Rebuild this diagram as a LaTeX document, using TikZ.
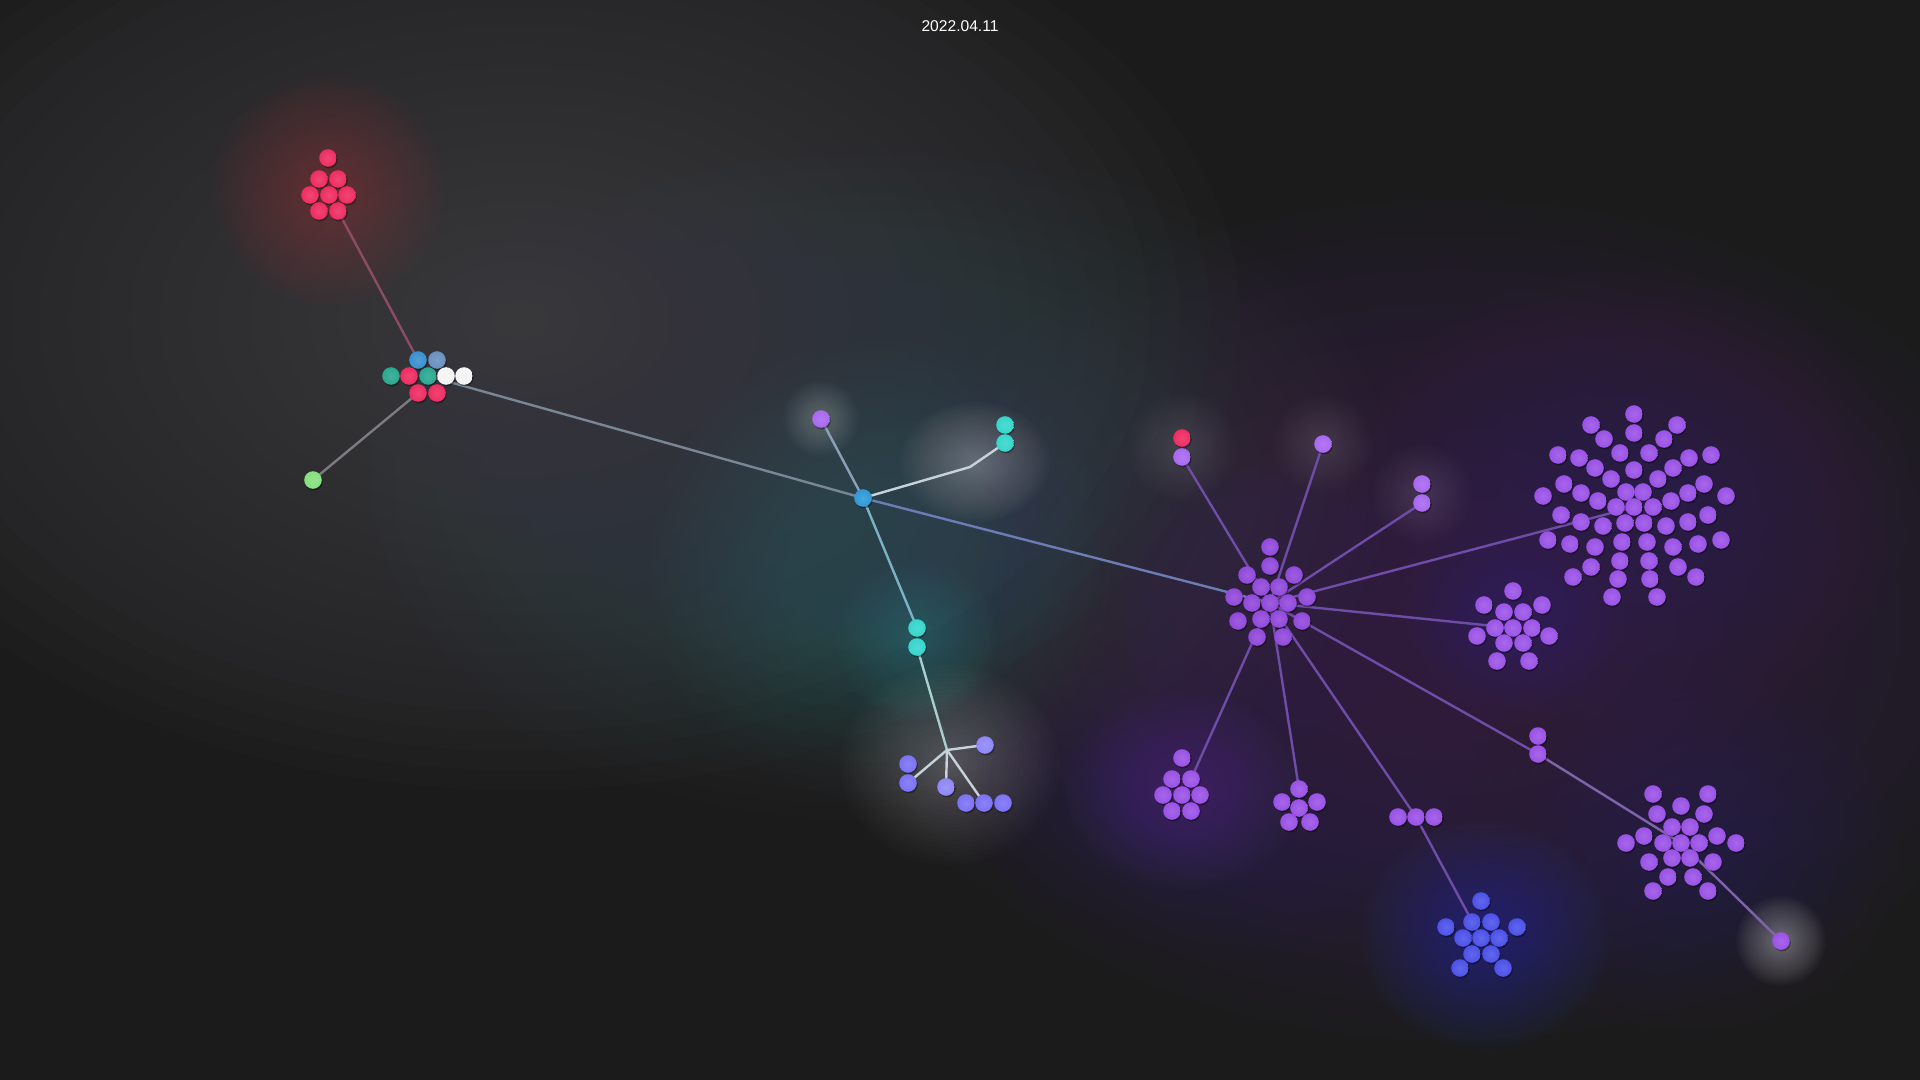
\documentclass[tikz,border=0pt]{standalone}
\usepackage{fontspec}
\setmainfont{Liberation Sans}
\usetikzlibrary{shadows}

\definecolor{bg}{HTML}{1B1B1C}
\definecolor{cRed}{HTML}{EE2D62}
\definecolor{cPurple}{HTML}{9A52E6}
\definecolor{cPurpleD}{HTML}{9149DB}
\definecolor{cLav}{HTML}{A868F0}
\definecolor{cBlue}{HTML}{4C52E8}
\definecolor{cViolet}{HTML}{7C72F5}
\definecolor{cCyan}{HTML}{36D6CC}
\definecolor{cHub}{HTML}{2E9AD8}
\definecolor{cGreen}{HTML}{86E080}
\definecolor{cMBlue}{HTML}{3A90D0}
\definecolor{cSteel}{HTML}{6A90C0}
\definecolor{cTeal}{HTML}{2AA890}
\definecolor{cWhite}{HTML}{F4F4F4}
\definecolor{lPurple}{HTML}{6E4CA8}
\definecolor{lPurpleL}{HTML}{8064AA}
\definecolor{lGray}{HTML}{7C7C80}
\definecolor{lPink}{HTML}{8C4C66}
\definecolor{lLight}{HTML}{C8D2DA}
\definecolor{lCyan}{HTML}{7AB4C4}
\definecolor{lCyanL}{HTML}{AACDCD}
\definecolor{lHubC}{HTML}{6C7CB4}
\definecolor{lMix}{HTML}{788696}
\definecolor{lPv}{HTML}{8CA0BA}
\definecolor{gGray}{HTML}{5C5B60}
\definecolor{gTealGray}{HTML}{4A5C64}
\definecolor{gTeal}{HTML}{4A8088}
\definecolor{gPurp1}{HTML}{4A3462}
\definecolor{gPurp2}{HTML}{5A3C76}
\definecolor{gPurp3}{HTML}{5A3C78}
\definecolor{gPurp4}{HTML}{503870}
\definecolor{gPurp5}{HTML}{6A4890}
\definecolor{gRed}{HTML}{D03458}
\definecolor{gBlue}{HTML}{3848D8}
\definecolor{gPurp6}{HTML}{7A50B8}
\definecolor{gCyan}{HTML}{48B8B8}

\pgfdeclarelayer{glows}
\pgfdeclarelayer{links}
\pgfsetlayers{glows,links,main}

% soft glow: 24 stacked translucent ellipses
\newcommand{\softglow}[6]{%
  \foreach \gk in {1,...,24}{%
    \fill[#5, fill opacity=#6] (#1,#2) ellipse [x radius={#3/24*\gk}, y radius={#4/24*\gk}];}}

\tikzset{
  ball/.style={circle, inner sep=0pt, minimum size=8.8pt, draw=none,
    inner color=#1!88!white, outer color=#1,
    drop shadow={shadow xshift=0.5pt, shadow yshift=-0.8pt, opacity=0.35, fill=black}},
  link/.style={line width=1.2pt, line cap=round, draw=#1},
}

\begin{document}
\begin{tikzpicture}[x=0.5pt, y=-0.5pt]
\useasboundingbox (0,0) rectangle (1920,1080);

\begin{pgfonlayer}{glows}
\fill[bg] (0,0) rectangle (1920,1080);
\softglow{520}{320}{720}{470}{gGray}{0.034}
\softglow{870}{480}{520}{340}{gTealGray}{0.024}
\softglow{880}{570}{230}{230}{gTeal}{0.017}
\softglow{1450}{620}{600}{420}{gPurp1}{0.034}
\softglow{1630}{500}{280}{230}{gPurp2}{0.02}
\softglow{1250}{790}{280}{170}{gPurp3}{0.017}
\softglow{1690}{850}{210}{180}{gPurp4}{0.02}
\softglow{1513}{628}{110}{100}{gPurp5}{0.014}
\softglow{1270}{600}{160}{140}{gPurp5}{0.01}
\softglow{328}{190}{115}{115}{gRed}{0.02}
\softglow{1485}{935}{125}{115}{gBlue}{0.022}
\softglow{1182}{790}{120}{100}{gPurp6}{0.02}
\softglow{917}{640}{80}{80}{gCyan}{0.017}
\softglow{975}{462}{75}{60}{white}{0.014}
\softglow{950}{765}{110}{100}{white}{0.012}
\softglow{1781}{941}{45}{45}{white}{0.02}
\softglow{821}{419}{38}{38}{white}{0.01}
\softglow{1323}{444}{50}{50}{white}{0.008}
\softglow{1182}{447}{55}{55}{white}{0.007}
\softglow{1422}{494}{50}{50}{white}{0.007}
\end{pgfonlayer}

% title
\node[text=white, font=\fontsize{7.8}{9}\selectfont] (title) at (960,26) {2022.04.11};

% red cluster
\foreach \px/\py [count=\i] in {328/158, 319/179, 338/179, 310/195, 329/195, 347/195, 319/211, 338/211}
  \node[ball=cRed] (r\i) at (\px,\py) {};

% mixed cluster
\node[ball=cMBlue] (m1) at (418,360) {};
\node[ball=cSteel] (m2) at (437,360) {};
\node[ball=cTeal] (m3) at (391,376) {};
\node[ball=cRed] (m4) at (409,376) {};
\node[ball=cTeal] (m5) at (428,376) {};
\node[ball=cWhite] (m6) at (446,376) {};
\node[ball=cWhite] (m7) at (464,376) {};
\node[ball=cRed] (m8) at (418,393) {};
\node[ball=cRed] (m9) at (437,393) {};

\node[ball=cGreen] (gr) at (313,480) {};

% hub area
\node[ball=cHub] (hub) at (863,498) {};
\node[ball=cLav] (pv) at (821,419) {};
\node[ball=cCyan] (c1) at (1005,425) {};
\node[ball=cCyan] (c2) at (1005,443) {};
\coordinate (bend) at (970,467);
\node[ball=cCyan] (c3) at (917,628) {};
\node[ball=cCyan] (c4) at (917,647) {};
\coordinate (jn) at (947,750);
\node[ball=cViolet!85!white] (v1) at (985,745) {};
\node[ball=cViolet] (v2) at (908,764) {};
\node[ball=cViolet] (v3) at (908,783) {};
\node[ball=cViolet!85!white] (v4) at (946,787) {};
\node[ball=cViolet] (v5) at (966,803) {};
\node[ball=cViolet] (v6) at (984,803) {};
\node[ball=cViolet] (v7) at (1003,803) {};

% centre purple cluster
\foreach \px/\py [count=\i] in {1270/547, 1270/566, 1247/575, 1294/575, 1261/587, 1279/587, 1234/597, 1307/597, 1252/603, 1270/603, 1288/603, 1238/621, 1261/619, 1279/619, 1302/621, 1257/637, 1283/637}
  \node[ball=cPurpleD] (k\i) at (\px,\py) {};

\node[ball=cRed] (p1) at (1182,438) {};
\node[ball=cLav] (p2) at (1182,457) {};
\node[ball=cLav] (s1) at (1323,444) {};
\node[ball=cLav] (q1) at (1422,484) {};
\node[ball=cLav] (q2) at (1422,503) {};

% giant cluster
\foreach \px/\py [count=\i] in {1634/414, 1591/425, 1677/425, 1634/433, 1604/439, 1664/439, 1558/455, 1579/458, 1620/453, 1649/453, 1689/458, 1711/455, 1595/468, 1634/470, 1673/468, 1611/479, 1658/479, 1564/484, 1704/484, 1581/493, 1626/492, 1643/492, 1688/493, 1543/496, 1726/496, 1598/501, 1671/501, 1616/507, 1634/507, 1653/507, 1561/515, 1708/515, 1581/522, 1603/526, 1625/523, 1644/523, 1666/526, 1688/522, 1548/540, 1570/544, 1595/547, 1622/542, 1647/542, 1673/547, 1698/544, 1721/540, 1591/567, 1620/561, 1649/561, 1678/567, 1573/577, 1618/579, 1650/579, 1696/577, 1612/597, 1657/597}
  \node[ball=cPurple] (g\i) at (\px,\py) {};

% right cluster
\foreach \px/\py [count=\i] in {1513/591, 1484/605, 1542/605, 1504/612, 1523/612, 1495/628, 1513/628, 1532/628, 1477/636, 1549/636, 1504/643, 1523/643, 1497/661, 1529/661}
  \node[ball=cPurple!90!cLav] (h\i) at (\px,\py) {};

% lower clusters
\foreach \px/\py [count=\i] in {1182/758, 1172/779, 1191/779, 1163/795, 1182/795, 1200/795, 1172/811, 1191/811}
  \node[ball=cPurple] (a\i) at (\px,\py) {};
\foreach \px/\py [count=\i] in {1299/789, 1282/802, 1317/802, 1299/808, 1289/822, 1310/822}
  \node[ball=cPurple] (b\i) at (\px,\py) {};
\foreach \px/\py [count=\i] in {1398/817, 1416/817, 1434/817}
  \node[ball=cPurple] (t\i) at (\px,\py) {};
\foreach \px/\py [count=\i] in {1481/901, 1446/927, 1472/922, 1491/922, 1517/927, 1463/938, 1481/938, 1499/938, 1472/954, 1491/954, 1460/968, 1503/968}
  \node[ball=cBlue] (u\i) at (\px,\py) {};

\node[ball=cPurple] (w1) at (1538,736) {};
\node[ball=cPurple] (w2) at (1538,754) {};
\foreach \px/\py [count=\i] in {1653/794, 1708/794, 1681/806, 1657/814, 1704/814, 1672/827, 1690/827, 1626/843, 1644/836, 1663/843, 1681/843, 1699/843, 1717/836, 1736/843, 1649/862, 1672/858, 1690/858, 1713/862, 1668/877, 1693/877, 1653/891, 1708/891}
  \node[ball=cPurple] (e\i) at (\px,\py) {};
\node[ball=cPurple] (s2) at (1781,941) {};

% connectors
\begin{pgfonlayer}{links}
\draw[link=lPink] (r8.center) -- (m1.center);
\draw[link=lGray] (m8.center) -- (gr.center);
\draw[link=lMix] (m5.center) -- (hub.center);
\draw[link=lPv] (hub.center) -- (pv.center);
\draw[link=lLight] (hub.center) -- (bend) -- (c2.center);
\draw[link=lCyan] (hub.center) -- (c3.center);
\draw[link=lCyanL] (c4.center) -- (jn);
\draw[link=lLight] (jn) -- (v1.center);
\draw[link=lLight] (jn) -- (v3.center);
\draw[link=lLight] (jn) -- (v4.center);
\draw[link=lLight] (jn) -- (v6.center);
\draw[link=lHubC] (hub.center) -- (k10.center);
\draw[link=lPurple] (k10.center) -- (p2.center);
\draw[link=lPurple] (k10.center) -- (s1.center);
\draw[link=lPurple] (k10.center) -- (q2.center);
\draw[link=lPurple] (k10.center) -- (g29.center);
\draw[link=lPurple] (k10.center) -- (h7.center);
\draw[link=lPurple] (k10.center) -- (a3.center);
\draw[link=lPurple] (k10.center) -- (b1.center);
\draw[link=lPurple] (k10.center) -- (t2.center);
\draw[link=lPurple] (k10.center) -- (w2.center);
\draw[link=lPurple] (t2.center) -- (u7.center);
\draw[link=lPurpleL] (w2.center) -- (e11.center) -- (s2.center);
\end{pgfonlayer}
\end{tikzpicture}
\end{document}
